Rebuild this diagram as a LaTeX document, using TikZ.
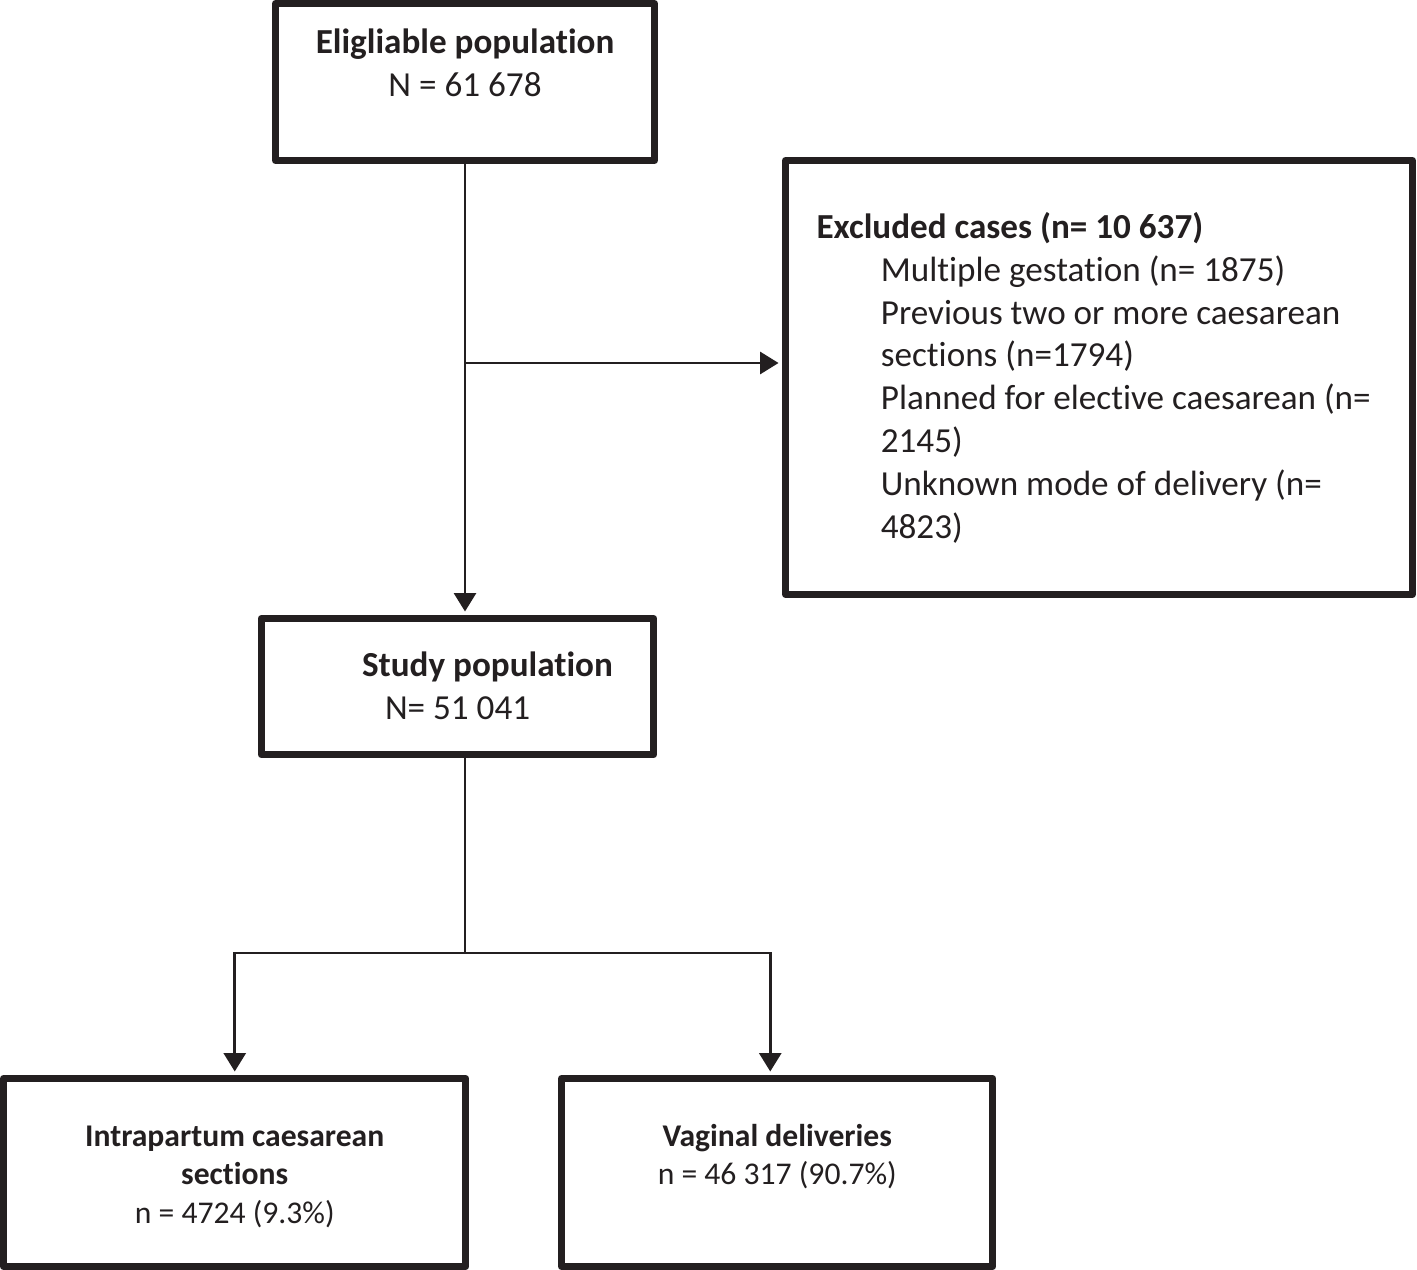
\documentclass[tikz,border=0pt]{standalone}
\usepackage{fontspec}
\setmainfont{Carlito}[Ligatures=NoCommon]
\usetikzlibrary{calc, arrows.meta}
\definecolor{ink}{HTML}{231F20}

\begin{document}
\begin{tikzpicture}[x=0.02cm, y=-0.02cm,
  box/.style={draw=ink, text=ink, line width=0.14cm, line join=round,
    inner sep=0pt, anchor=base},
  big/.style={font=\fontsize{20}{24.4}\selectfont},
  small/.style={font=\fontsize{18}{22}\selectfont},
  link/.style={draw=ink, line width=1.7pt},
  arr/.style={link, shorten >=0.07cm, -{Triangle[length=0.37cm, width=0.44cm]}}]
  \useasboundingbox (0,0) rectangle (1417,1270);
  \node[box, big, text width=7.58cm, align=flush center, text height=1.0cm, text depth=2.14cm]
    (elig) at (465,53.5) {\textbf{Eligliable population}\\N = 61 678};
  \node[box, big, text width=12.54cm, align=flush left, text height=1.556cm, text depth=7.124cm]
    (excl) at (1099,238.3) {\hspace*{0.62cm}\textbf{Excluded cases (n= 10 637)}\\
    \hspace*{1.906cm}Multiple gestation (n= 1875)\\
    \hspace*{1.906cm}Previous two or more caesarean\\
    \hspace*{1.906cm}sections (n=1794)\\
    \hspace*{1.906cm}Planned for elective caesarean (n=\\
    \hspace*{1.906cm}2145)\\
    \hspace*{1.906cm}Unknown mode of delivery (n=\\
    \hspace*{1.906cm}4823)};
  \node[box, big, text width=7.86cm, align=flush left, text height=1.164cm, text depth=1.56cm]
    (study) at (457.5,676.7) {\hspace*{2.02cm}\textbf{Study population}\\
    \hspace*{2.48cm}N= 51 041};
  \node[box, small, text width=9.25cm, align=flush center, text height=1.35cm, text depth=2.41cm]
    (caes) at (234.75,1146) {\textbf{Intrapartum caesarean}\\\textbf{sections}\\n = 4724 (9.3\%)};
  \node[box, small, text width=8.63cm, align=flush center, text height=1.35cm, text depth=2.41cm]
    (vag) at (777.25,1146) {\textbf{Vaginal deliveries}\\n = 46 317 (90.7\%)};
  % 排除分支
  \coordinate (split) at (elig.south |- 0,363);
  \draw[arr] (elig.south) -- (elig.south |- study.north);
  \draw[arr] (split) -- (split -| excl.west);
  % 分娩方式
  \coordinate (fork) at (elig.south |- 0,953);
  \draw[link] (fork |- study.south) -- (fork);
  \draw[arr] (fork) -| (caes.north);
  \draw[arr] (fork) -| ([xshift=-0.14cm]vag.north);
\end{tikzpicture}
\end{document}
